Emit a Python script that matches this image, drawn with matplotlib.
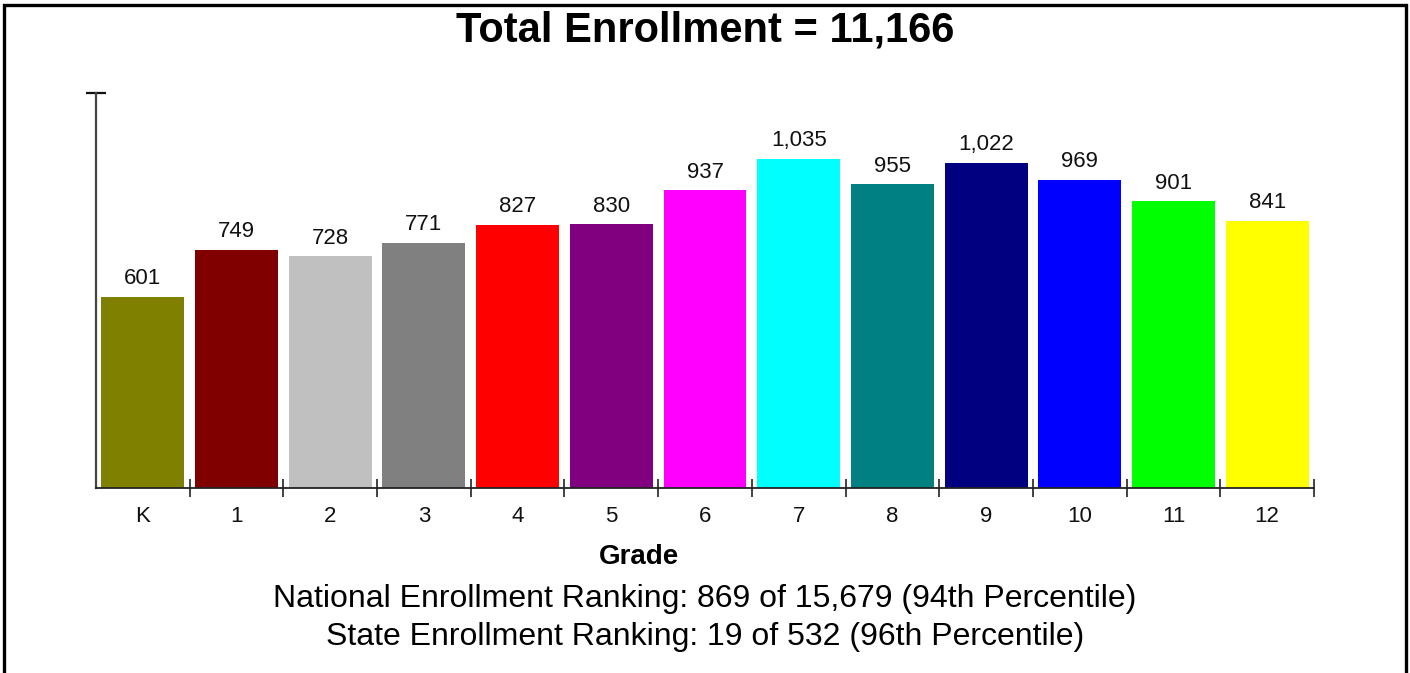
import matplotlib
matplotlib.use("Agg")
import matplotlib.pyplot as plt
from matplotlib.patches import Rectangle

grades = ["K", "1", "2", "3", "4", "5", "6", "7", "8", "9", "10", "11", "12"]
enrollment = [601, 749, 728, 771, 827, 830, 937, 1035, 955, 1022, 969, 901, 841]
colors = ["#808000", "#800000", "#C0C0C0", "#808080", "#FF0000", "#800080",
          "#FF00FF", "#00FFFF", "#008080", "#000080", "#0000FF", "#00FF00", "#FFFF00"]
title = "Total Enrollment = 11,166"
footer_lines = ["National Enrollment Ranking: 869 of 15,679 (94th Percentile)",
                "State Enrollment Ranking: 19 of 532 (96th Percentile)"]

plt.rcParams['font.family'] = ['Liberation Sans', 'DejaVu Sans']

W, H = 1410, 673
fig = plt.figure(figsize=(W / 100, H / 100), dpi=100)
ax = fig.add_axes([96 / W, 1 - 488 / H, (1314 - 96) / W, (488 - 93) / H])

x = list(range(len(grades)))
ax.bar(x, enrollment, width=0.885, color=colors, edgecolor='none', zorder=2)
for xi, v in zip(x, enrollment):
    ax.annotate(f"{v:,}", (xi, v), xytext=(0, 9), textcoords='offset points',
                ha='center', va='baseline', fontsize=16, color='#111111')

ymax = 1.2 * max(enrollment)
ax.set_ylim(0, ymax)
ax.set_xlim(-0.5, len(grades) - 0.5)

for s in ['top', 'right']:
    ax.spines[s].set_visible(False)
ax.spines['left'].set_color('#444444')
ax.spines['left'].set_linewidth(1.6)
ax.spines['bottom'].set_color('#222222')
ax.spines['bottom'].set_linewidth(1.3)

ax.set_yticks([ymax])
ax.set_yticklabels([])
ax.tick_params(axis='y', direction='inout', length=14.5, width=1.6, color='#111111')

ax.set_xticks(x)
ax.set_xticklabels(grades, fontsize=16, color='#111111')
ax.tick_params(axis='x', which='major', length=0, pad=13)
ax.set_xticks([i + 0.5 for i in range(len(grades))], minor=True)
ax.tick_params(axis='x', which='minor', length=13, width=1.2, color='#222222', direction='inout')

fig.text(0.5, 1 - 31 / H, title, ha='center', va='center', fontsize=30,
         fontweight='bold', color='#000000')
fig.text(639 / W, 1 - 557 / H, "Grade", ha='center', va='center', fontsize=20,
         fontweight='bold', color='#000000')
fig.text(0.5, 1 - 599 / H, footer_lines[0], ha='center', va='center', fontsize=23, color='#000000')
fig.text(0.5, 1 - 637 / H, footer_lines[1], ha='center', va='center', fontsize=23, color='#000000')

fig.add_artist(Rectangle((3.5 / W, -0.05), (1406 - 3.5) / W, 1.05 - 5 / H,
                         transform=fig.transFigure, fill=False, edgecolor='#000000',
                         linewidth=2.4))

fig.savefig("out.png", dpi=100)
